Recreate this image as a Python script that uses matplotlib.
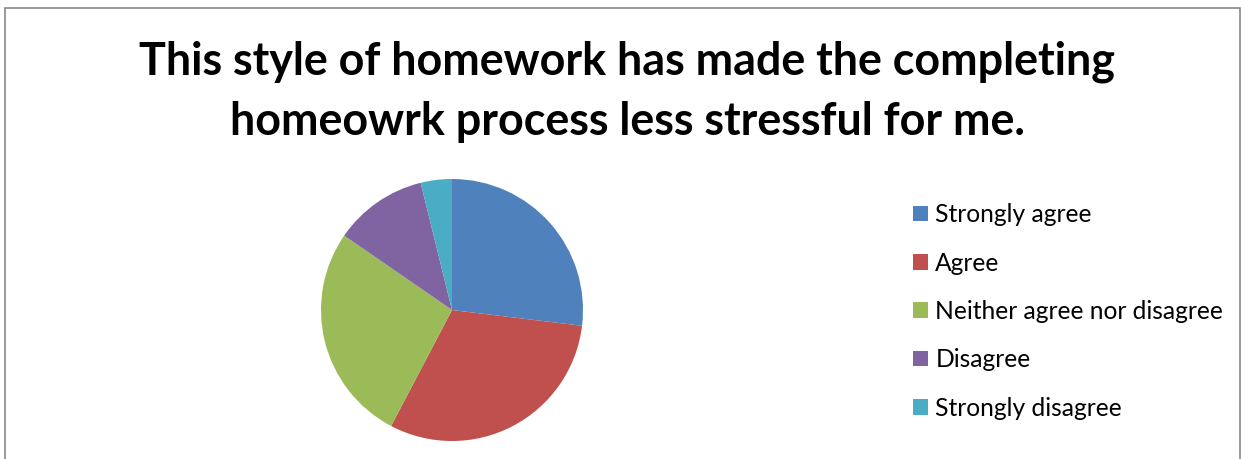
import matplotlib.pyplot as plt
from matplotlib.patches import Rectangle, Patch

plt.rcParams['font.family'] = ['Lato', 'DejaVu Sans']

labels = ['Strongly agree', 'Agree', 'Neither agree nor disagree',
          'Disagree', 'Strongly disagree']
counts = [7, 8, 7, 3, 1]
colors = ['#4F81BD', '#C0504D', '#9BBB59', '#8064A2', '#4BACC6']
title = "This style of homework has made the completing\nhomeowrk process less stressful for me."

W, H = 1246, 459
fig = plt.figure(figsize=(W / 100, H / 100), dpi=100)

# chart border
fig.patches.append(Rectangle((4.5 / W, -0.05), 1235 / W, (H - 8) / H + 0.05,
                             transform=fig.transFigure, fill=False,
                             edgecolor='#878787', linewidth=1.2))

fig.text(627 / W, 1 - 92 / H, title, ha='center', va='center',
         fontsize=32.3, fontweight='bold', linespacing=1.52)

# pie
cx, cy, r = 452, 310, 131
ax = fig.add_axes([(cx - r) / W, (H - cy - r) / H, 2 * r / W, 2 * r / H])
ax.pie(counts, colors=colors, startangle=90, counterclock=False, radius=1,
       wedgeprops=dict(linewidth=0))
ax.set_xlim(-1, 1)
ax.set_ylim(-1, 1)
ax.set_aspect('equal')
ax.axis('off')

handles = [Patch(facecolor=c, edgecolor='none') for c in colors]
fig.legend(handles, labels, loc='upper left',
           bbox_to_anchor=(901 / W, 1 - 191 / H), frameon=False,
           fontsize=17.7, handlelength=0.6, handleheight=0.6,
           handletextpad=0.3, labelspacing=1.03, borderpad=0)

fig.savefig('out.png', dpi=100)
